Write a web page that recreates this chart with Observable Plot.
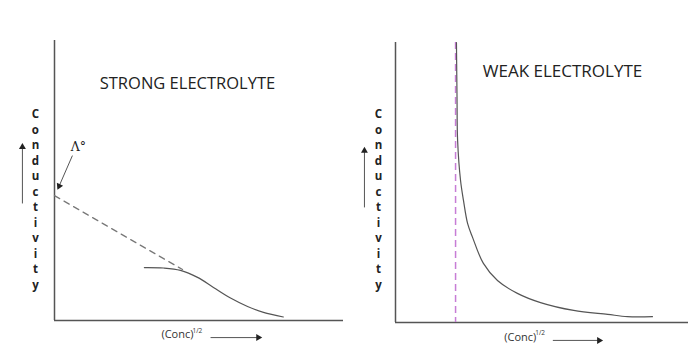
<!DOCTYPE html>
<html>
<head>
<meta charset="utf-8">
<script src="https://cdn.jsdelivr.net/npm/d3@7"></script>
<script src="https://cdn.jsdelivr.net/npm/@observablehq/plot@0.6"></script>
<style>
  html, body { margin: 0; padding: 0; background: #fff; }
  #wrap { display: flex; width: 700px; height: 358px; background: #fff; }
  #wrap svg { overflow: visible; }
</style>
</head>
<body>
<div id="wrap"></div>
<script>
// ---------- Data (arbitrary units, 0–10 on both axes) ----------
const titles = ["STRONG ELECTROLYTE", "WEAK ELECTROLYTE"];
const yLabel = "Conductivity";
const xLabel = "(Conc)";
const xLabelSup = "1/2";
const lambdaLabel = "Λ°";

// Strong electrolyte: measured curve
const strongX = [3.11, 3.77, 4.36, 4.95, 5.50, 6.09, 6.68, 7.23, 7.92];
const strongY = [1.89, 1.875, 1.79, 1.54, 1.18, 0.80, 0.50, 0.29, 0.125];
// Strong electrolyte: extrapolation (dashed) to the axis
const tangentX = [0, 4.43];
const tangentY = [4.46, 1.82];

// Weak electrolyte: measured curve
const weakX = [2.08, 2.10, 2.12, 2.22, 2.32, 2.46, 2.63, 3.00, 3.48, 4.16, 4.95, 6.08, 7.24, 7.92, 8.77];
const weakY = [10.0, 8.00, 6.50, 5.07, 4.36, 3.54, 3.04, 2.11, 1.50, 1.04, 0.71, 0.43, 0.29, 0.21, 0.21];
// Weak electrolyte: asymptote (dashed)
const asymptoteX = [2.05];

// Annotation anchors (data units of each panel)
const strongTitlePos = [4.6, 8.46];
const weakTitlePos = [5.7, 8.96];
const strongYLabelPos = [-0.66, 4.36];
const weakYLabelPos = [-0.58, 4.43];
const strongYArrow = [-1.11, 4.18, -1.11, 6.20];
const weakYArrow = [-1.06, 4.11, -1.06, 6.13];
const lambdaPos = [0.83, 6.18];
const lambdaArrow = [0.62, 5.89, 0.16, 4.80];
const strongXLabelPos = [3.70, -0.50];
const weakXLabelPos = [3.71, -0.52];
const strongXArrow = [5.40, -0.61, 7.05, -0.61];
const weakXArrow = [5.37, -0.64, 6.95, -0.64];

// ---------- Drawing ----------
const FONT = "'Open Sans', 'Noto Sans', sans-serif";
const AXIS = "#555";
const INK = "#333";
const LINE = "#555";

function arrowMarksRot(a, deg) {
  return [
    Plot.link([a], {x1: d => d[0], y1: d => d[1], x2: d => d[2], y2: d => d[3], stroke: AXIS, strokeWidth: 1}),
    Plot.dot([a], {x: d => d[2], y: d => d[3], symbol: "triangle2", r: 3.3, fill: "#222", stroke: "none", rotate: deg})
  ];
}

function xLabelMarks(pos) {
  return [
    Plot.text([pos], {x: d => d[0], y: d => d[1], text: () => xLabel, textAnchor: "start", fontSize: 11, fill: INK, fontFamily: FONT}),
    Plot.text([pos], {x: d => d[0], y: d => d[1], text: () => xLabelSup, textAnchor: "start", dx: 31, dy: -4, fontSize: 6.5, fill: INK, fontFamily: FONT})
  ];
}

function yLabelMark(pos) {
  return Plot.text([pos], {x: d => d[0], y: d => d[1], text: () => yLabel.split("").join("\n"),
    fontSize: 11.5, lineHeight: 1.35, fill: "#222", fontFamily: FONT, fontWeight: 700});
}

const strongData = strongX.map((x, i) => ({x, y: strongY[i]}));
const tangentData = tangentX.map((x, i) => ({x, y: tangentY[i]}));
const weakData = weakX.map((x, i) => ({x, y: weakY[i]}));

const left = Plot.plot({
  width: 350, height: 358,
  marginLeft: 54, marginRight: 7, marginTop: 40, marginBottom: 38,
  x: {domain: [0, 10], axis: null},
  y: {domain: [0, 10], axis: null},
  style: {background: "transparent", overflow: "visible"},
  marks: [
    Plot.ruleX([0], {stroke: AXIS, strokeWidth: 1.5}),
    Plot.ruleY([0], {stroke: AXIS, strokeWidth: 1.5}),
    Plot.line(tangentData, {x: "x", y: "y", stroke: "#777", strokeWidth: 1.2, strokeDasharray: "6,5"}),
    Plot.line(strongData, {x: "x", y: "y", stroke: LINE, strokeWidth: 1.2, curve: "catmull-rom"}),
    Plot.text([strongTitlePos], {x: d => d[0], y: d => d[1], text: () => titles[0], fontSize: 16.5, fill: "#222", fontFamily: FONT, fontWeight: 500}),
    yLabelMark(strongYLabelPos),
    ...arrowMarksRot(strongYArrow, 0),
    Plot.text([lambdaPos], {x: d => d[0], y: d => d[1], text: () => lambdaLabel, fontSize: 12.5, fill: "#222", fontFamily: "'DejaVu Serif', serif"}),
    ...arrowMarksRot(lambdaArrow, 205),
    ...xLabelMarks(strongXLabelPos),
    ...arrowMarksRot(strongXArrow, 90)
  ]
});

const right = Plot.plot({
  width: 350, height: 358,
  marginLeft: 45, marginRight: 12, marginTop: 42, marginBottom: 36,
  x: {domain: [0, 10], axis: null},
  y: {domain: [0, 10], axis: null},
  style: {background: "transparent", overflow: "visible"},
  marks: [
    Plot.ruleX([0], {stroke: AXIS, strokeWidth: 1.5}),
    Plot.ruleY([0], {stroke: AXIS, strokeWidth: 1.5}),
    Plot.ruleX(asymptoteX, {stroke: "#c77dd6", strokeWidth: 1.5, strokeDasharray: "7,4"}),
    Plot.line(weakData, {x: "x", y: "y", stroke: LINE, strokeWidth: 1.2, curve: "catmull-rom"}),
    Plot.text([weakTitlePos], {x: d => d[0], y: d => d[1], text: () => titles[1], fontSize: 17, fill: "#222", fontFamily: FONT, fontWeight: 500}),
    yLabelMark(weakYLabelPos),
    ...arrowMarksRot(weakYArrow, 0),
    ...xLabelMarks(weakXLabelPos),
    ...arrowMarksRot(weakXArrow, 90)
  ]
});

document.getElementById("wrap").append(left, right);
</script>
</body>
</html>
